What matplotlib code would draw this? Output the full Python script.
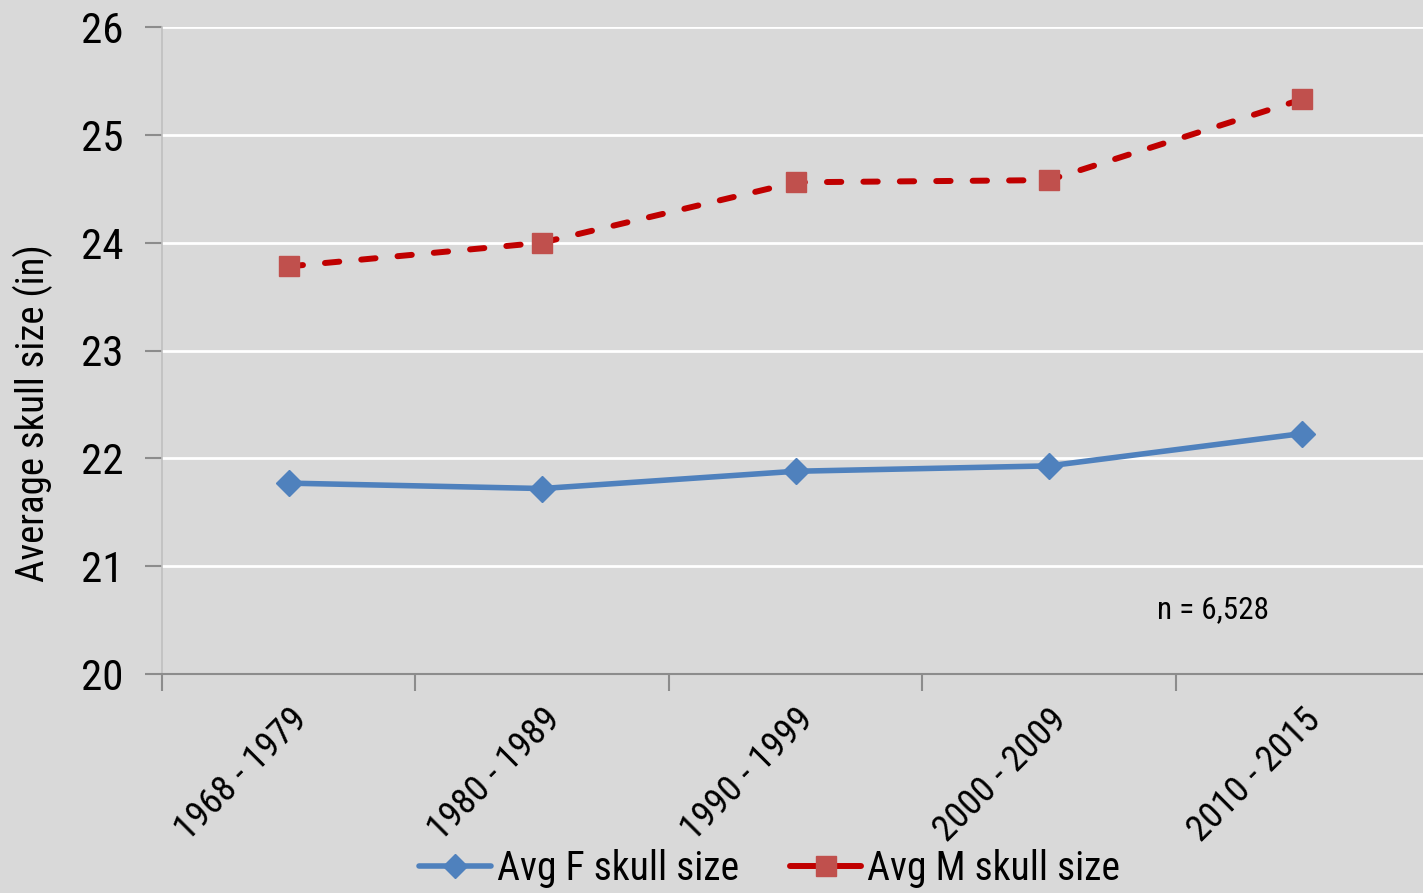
import matplotlib
matplotlib.use("Agg")
import matplotlib.pyplot as plt
from matplotlib import font_manager
import numpy as np

# data
periods = ["1968 - 1979", "1980 - 1989", "1990 - 1999", "2000 - 2009", "2010 - 2015"]
avg_f = [21.77, 21.72, 21.88, 21.93, 22.23]
avg_m = [23.78, 24.00, 24.56, 24.58, 25.33]
y_ticks = [20, 21, 22, 23, 24, 25, 26]
note = "n = 6,528"

# narrow font if there is one, else plain sans
names = {f.name for f in font_manager.fontManager.ttflist}
cands = ["Liberation Sans Narrow", "Arial Narrow", "Roboto Condensed", "Noto Sans Condensed",
         "DejaVu Sans Condensed", "Open Sans Condensed", "Liberation Sans", "DejaVu Sans"]
fam = [f for f in cands if f in names]
plt.rcParams['font.family'] = fam

W, H = 1423, 893
fig = plt.figure(figsize=(W / 100, H / 100), dpi=100, facecolor='#D9D9D9')
ax = fig.add_axes([162 / W, 1 - 674 / H, 1267 / W, 647 / H])
ax.set_facecolor('#D9D9D9')

x = np.arange(len(periods))
blue = '#4F81BD'
red = '#C00000'

ax.plot(x, avg_f, color=blue, lw=4, solid_capstyle='round', zorder=3)
ax.plot(x, avg_f, ls='none', marker='D', ms=13, color=blue, zorder=4)

ax.plot(x, avg_m, color=red, lw=4.3, ls=(0, (2.4, 3.7)), dash_capstyle='round', zorder=3)
ax.plot(x, avg_m, ls='none', marker='s', ms=15, color='#C0504D', zorder=4)

# legend proxies
h1, = ax.plot([], [], color=blue, lw=4, marker='D', ms=12, solid_capstyle='round')
h2, = ax.plot([], [], color=red, lw=4.3, marker='s', ms=15, mfc='#C0504D', mec='#C0504D',
              solid_capstyle='round')
fig.legend([h1, h2], ["Avg F skull size", "Avg M skull size"], loc='center',
           bbox_to_anchor=(0.541, 1 - 868 / H), ncol=2, frameon=False, fontsize=28.5,
           handlelength=1.8, handletextpad=0.15, columnspacing=1.3)

ax.set_xlim(-0.5, len(periods) - 0.5)
ax.set_ylim(20, 26)
ax.set_yticks(y_ticks)
ax.yaxis.grid(True, color='white', lw=2)
ax.set_axisbelow(True)

ax.set_xticks(np.arange(len(periods) + 1) - 0.5)
ax.set_xticklabels([])
ax.set_xticks(x, minor=True)
ax.set_xticklabels(periods, minor=True, rotation=45, ha='right', va='top',
                   rotation_mode='anchor', fontsize=26.5)
ax.tick_params(axis='x', which='minor', length=0, pad=20)
ax.tick_params(axis='x', which='major', length=12, width=1.5, color='#8C8C8C', direction='out')
ax.tick_params(axis='y', length=12, width=1.5, color='#8C8C8C', labelsize=31, pad=16)

for s in ['top', 'right']:
    ax.spines[s].set_visible(False)
ax.spines['left'].set_color('#BFBFBF')
ax.spines['left'].set_linewidth(1.2)
ax.spines['bottom'].set_color('#8C8C8C')
ax.spines['bottom'].set_linewidth(1.5)

ax.set_ylabel("Average skull size (in)", fontsize=28)
ax.yaxis.set_label_coords(-0.086, 0.403)
ax.text(3.87, 20.6, note, fontsize=22.5, ha='right', va='center')

fig.savefig("out.png", dpi=100, facecolor=fig.get_facecolor())
